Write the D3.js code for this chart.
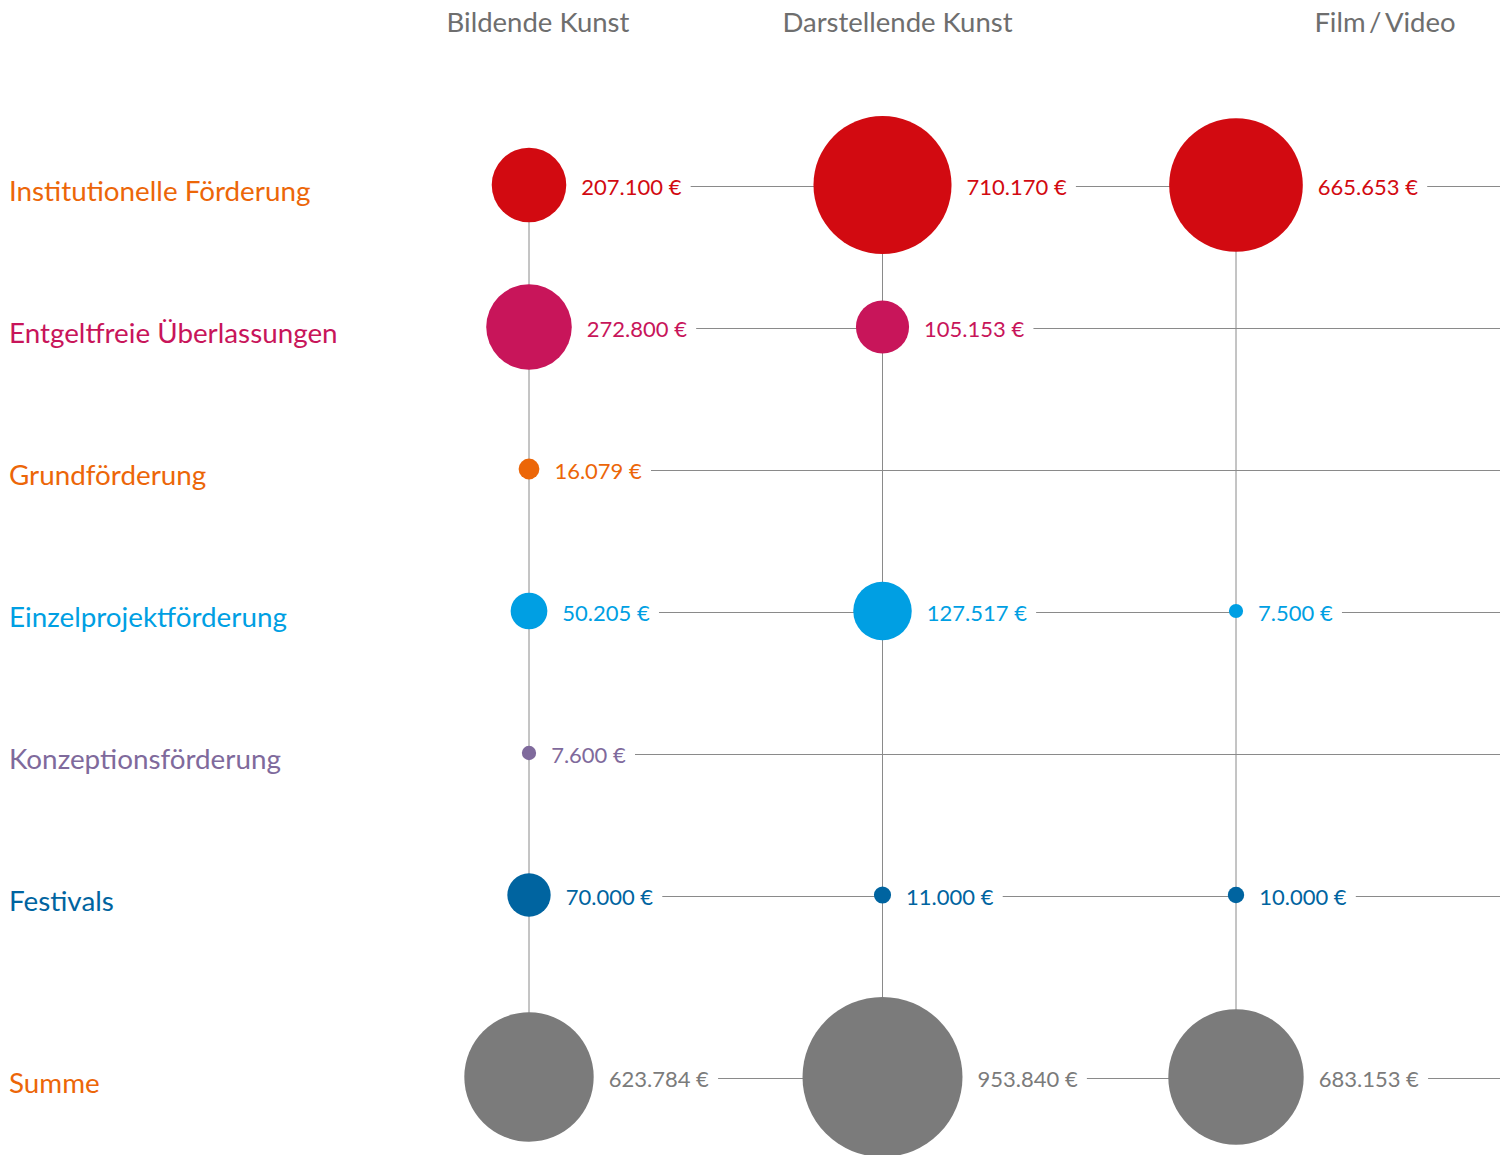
<!DOCTYPE html>
<html>
<head>
<meta charset="utf-8">
<script src="https://cdn.jsdelivr.net/npm/d3@7"></script>
<style>
  body { margin: 0; background: #fff; }
  svg { display: block; }
</style>
</head>
<body>
<div class="svgWrapper"></div>
<script>
// Data //
const columns = ["Bildende Kunst", "Darstellende Kunst", "Film\u2009/\u2009Video"];
const categories = [
  "Institutionelle Förderung",
  "Entgeltfreie Überlassungen",
  "Grundförderung",
  "Einzelprojektförderung",
  "Konzeptionsförderung",
  "Festivals",
  "Summe"
];
const bildendeKunst = [207100, 272800, 16079, 50205, 7600, 70000, 623784];
const darstellendeKunst = [710170, 105153, null, 127517, null, 11000, 953840];
const filmVideo = [665653, null, null, 7500, null, 10000, 683153];
const seriesValues = [bildendeKunst, darstellendeKunst, filmVideo];

// Styles //
const circleColors = ["#d20a11", "#c8155a", "#ec6608", "#009fe3", "#7f6a9c", "#0064a0", "#7b7b7b"];
const labelColors = ["#ec6608", "#c8155a", "#ec6608", "#009fe3", "#7f6a9c", "#0064a0", "#ec6608"];
const valueColors = ["#d20a11", "#c8155a", "#ec6608", "#009fe3", "#7f6a9c", "#0064a0", "#7b7b7b"];
const headerOffsets = [9, 15, 149];

const svgStyles = { w: 1500, h: 1155 };
const fontFamily = "Lato, 'Open Sans', sans-serif";
const lineColor = "#8a8a8a";

const svg = d3
  .select(".svgWrapper")
  .append("svg")
  .attr("width", svgStyles.w)
  .attr("height", svgStyles.h);

// scales
const xScale = d3.scalePoint().domain(columns).range([529, 1236]);
const yScale = d3
  .scaleLinear()
  .domain([0, categories.length - 2, categories.length - 1])
  .range([185, 895, 1077]);
const rScale = d3
  .scaleSqrt()
  .domain([0, d3.max(seriesValues.flat())])
  .range([0, 80]);

const locale = d3.formatLocale({ decimal: ",", thousands: ".", grouping: [3], currency: ["", " €"] });
const fmt = d => locale.format(",")(d) + " €";

// flatten into cells
const cells = [];
seriesValues.forEach((vals, ci) => {
  vals.forEach((v, ri) => {
    if (v != null) cells.push({ col: columns[ci], ci, ri, value: v });
  });
});

// column headers
svg
  .selectAll(".header")
  .data(columns)
  .enter()
  .append("text")
  .attr("class", "header")
  .attr("x", (d, i) => xScale(d) + headerOffsets[i])
  .attr("y", 32)
  .attr("text-anchor", "middle")
  .style("font-family", fontFamily)
  .style("font-size", "27.5px")
  .style("fill", "#6e6e6e")
  .text(d => d);

// row labels
svg
  .selectAll(".rowLabel")
  .data(categories)
  .enter()
  .append("text")
  .attr("class", "rowLabel")
  .attr("x", 9)
  .attr("y", (d, i) => yScale(i) + 9)
  .attr("dominant-baseline", "middle")
  .style("font-family", fontFamily)
  .style("font-size", "27.8px")
  .style("fill", (d, i) => labelColors[i])
  .text(d => d);

// vertical lines
const verticals = svg.append("g").attr("class", "verticals");
seriesValues.forEach((vals, ci) => {
  const rows = vals.map((v, i) => (v != null ? i : null)).filter(i => i != null);
  verticals
    .append("line")
    .attr("x1", xScale(columns[ci]))
    .attr("x2", xScale(columns[ci]))
    .attr("y1", yScale(d3.min(rows)))
    .attr("y2", yScale(d3.max(rows)))
    .attr("stroke", lineColor)
    .attr("stroke-width", 1);
});

const horizontals = svg.append("g").attr("class", "horizontals");

// value labels
const valueLabels = svg
  .append("g")
  .selectAll("text")
  .data(cells)
  .enter()
  .append("text")
  .attr("x", d => xScale(d.col) + rScale(d.value) + 15)
  .attr("y", d => yScale(d.ri) + 4)
  .attr("dominant-baseline", "middle")
  .style("font-family", fontFamily)
  .style("font-size", "22px")
  .style("fill", d => valueColors[d.ri])
  .text(d => fmt(d.value));

// horizontal line segments: from label end to next circle or edge
valueLabels.each(function(d) {
  const box = this.getBBox();
  const next = cells.find(c => c.ri === d.ri && c.ci > d.ci);
  horizontals
    .append("line")
    .attr("x1", box.x + box.width + 9)
    .attr("x2", next ? xScale(next.col) : svgStyles.w)
    .attr("y1", yScale(d.ri) + 1.5)
    .attr("y2", yScale(d.ri) + 1.5)
    .attr("stroke", lineColor)
    .attr("stroke-width", 1);
});

// circles
svg
  .append("g")
  .selectAll("circle")
  .data(cells)
  .enter()
  .append("circle")
  .attr("cx", d => xScale(d.col))
  .attr("cy", d => yScale(d.ri))
  .attr("r", d => rScale(d.value))
  .attr("fill", d => circleColors[d.ri]);
</script>
</body>
</html>
